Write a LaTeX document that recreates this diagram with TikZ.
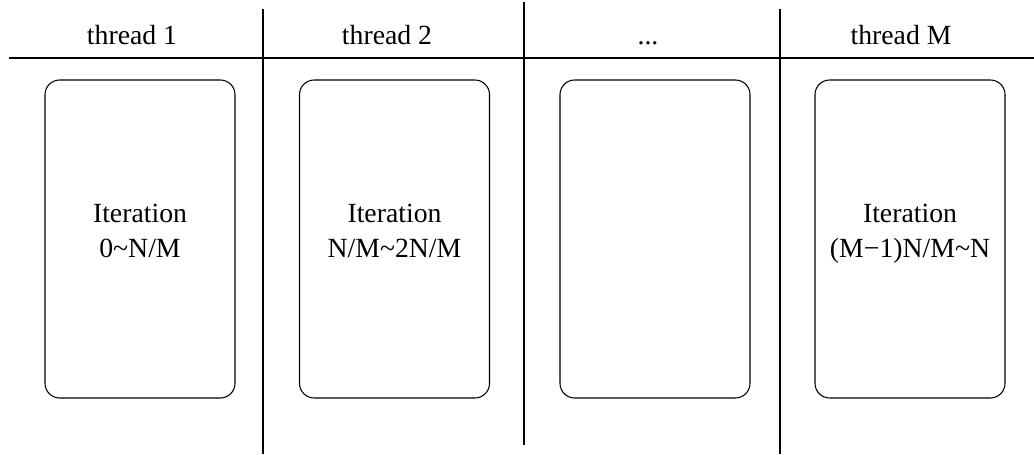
\documentclass[tikz,border=0pt]{standalone}
\usepackage{fontspec}
\setmainfont{Liberation Serif}
\usetikzlibrary{positioning}

\begin{document}
\begin{tikzpicture}[x=0.75pt,y=0.75pt,
    every node/.style={font=\fontsize{20.8}{26.5}\selectfont},
    header/.style={inner sep=0pt,anchor=base},
    itertext/.style={inner sep=0pt,anchor=base,align=center},
    iterbox/.style={draw,line width=0.8pt,rounded corners=11pt,minimum width=142.5pt,minimum height=238.5pt,align=center,inner sep=0pt}]
      \useasboundingbox (0,0) rectangle (1034,454);
      % column grid
      \coordinate (L) at (9,396);
      \coordinate (R) at (1034,396);
      \coordinate (D1t) at (263,445);
      \coordinate (D1b) at (263,0);
      \coordinate (D2t) at (524,452);
      \coordinate (D2b) at (524,9);
      \coordinate (D3t) at (780,445);
      \coordinate (D3b) at (780,0);
      \draw[line width=0.8pt] (L)--(R);
      \draw[line width=0.8pt] (D1t)--(D1b);
      \draw[line width=0.8pt] (D2t)--(D2b);
      \draw[line width=0.8pt] (D3t)--(D3b);
      % headers
      \node[header] (h1) at (132,409) {thread 1};
      \node[header] (h2) at (387,409) {thread 2};
      \node[header] (h3) at (648,409) {...};
      \node[header] (h4) at (901,409) {thread M};
      % iteration blocks
      \node[iterbox] (b1) at (140,215) {};
      \node[iterbox] (b2) at (394.5,215) {};
      \node[iterbox] (b3) at (655,215) {};
      \node[iterbox] (b4) at (910,215) {};
      \node[itertext] (t1) at ([yshift=-13.75pt]b1.center) {Iteration\\0\textasciitilde N/M};
      \node[itertext] (t2) at ([yshift=-13.75pt]b2.center) {Iteration\\N/M\textasciitilde 2N/M};
      \node[itertext] (t4) at ([yshift=-13.75pt]b4.center) {Iteration\\(M−1)N/M\textasciitilde N};
    \end{tikzpicture}
\end{document}
